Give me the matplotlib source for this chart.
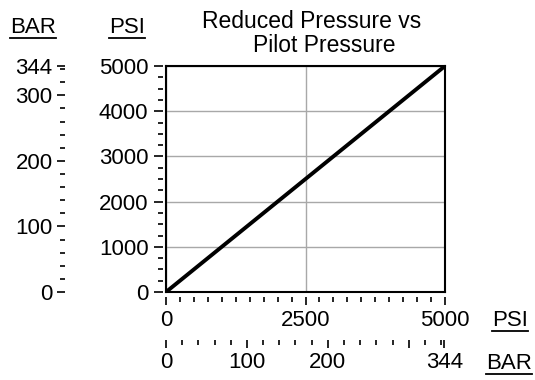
import matplotlib
matplotlib.use('Agg')
import matplotlib.pyplot as plt
from matplotlib.lines import Line2D
from matplotlib.ticker import FixedLocator, MultipleLocator

plt.rcParams['font.family'] = ['Liberation Sans', 'DejaVu Sans']

# data: reduced pressure follows pilot pressure 1:1
pilot_psi = [0, 5000]
reduced_psi = [0, 5000]

psi_y_ticks = [0, 1000, 2000, 3000, 4000, 5000]
psi_x_ticks = [0, 2500, 5000]
bar_y_ticks = [0, 100, 200, 300, 344]
bar_x_ticks = [0, 100, 200, 300, 344]
bar_x_labels = ['0', '100', '200', '', '344']
bar_y_labels = ['0', '100', '200', '300', '344']

PSI_PER_BAR = 14.5038
FS = 16
W, H = 535, 380


def psi2bar(p):
    return p / PSI_PER_BAR


def bar2psi(b):
    return b * PSI_PER_BAR


def same(v):
    return v


fig = plt.figure(figsize=(W / 100, H / 100), dpi=100)
ax = fig.add_axes([166 / W, (H - 292) / H, (445 - 166) / W, (292 - 66) / H])

ax.plot(pilot_psi, reduced_psi, color='black', lw=2.8, solid_capstyle='butt')
ax.set_xlim(0, 5000)
ax.set_ylim(0, 5000)
ax.xaxis.set_major_locator(FixedLocator(psi_x_ticks))
ax.yaxis.set_major_locator(FixedLocator(psi_y_ticks))
ax.grid(True, color='#a8a8a8', lw=1)
ax.tick_params(length=0, labelleft=False, labelbottom=False)
for s in ax.spines.values():
    s.set_linewidth(1.5)

tick_kw = dict(width=1.2, labelsize=FS, colors='black')

# psi scales, ticks slightly detached from frame
psi_left = ax.secondary_yaxis(-3 / 279, functions=(same, same))
psi_left.spines['left'].set_visible(False)
psi_left.set_yticks(psi_y_ticks)
psi_left.yaxis.set_minor_locator(MultipleLocator(250))
psi_left.tick_params(which='major', length=6.5, pad=4, **tick_kw)
psi_left.tick_params(which='minor', length=3.5, width=1.2)

psi_bot = ax.secondary_xaxis(-5 / 226, functions=(same, same))
psi_bot.spines['bottom'].set_visible(False)
psi_bot.set_xticks(psi_x_ticks)
psi_bot.xaxis.set_minor_locator(MultipleLocator(250))
psi_bot.tick_params(which='major', length=5.5, pad=3.5, **tick_kw)
psi_bot.tick_params(which='minor', length=3.5, width=1.2)

# bar scales
bar_left = ax.secondary_yaxis(-101 / 279, functions=(psi2bar, bar2psi))
bar_left.spines['left'].set_visible(False)
bar_left.set_yticks(bar_y_ticks, bar_y_labels)
bar_left.yaxis.set_minor_locator(MultipleLocator(20))
bar_left.tick_params(which='major', length=5.5, pad=3.5, **tick_kw)
bar_left.tick_params(which='minor', length=3.5, width=1.2)

bar_bot = ax.secondary_xaxis(-48 / 226, functions=(psi2bar, bar2psi))
bar_bot.spines['bottom'].set_visible(False)
bar_bot.set_xticks(bar_x_ticks, bar_x_labels)
bar_bot.xaxis.set_minor_locator(MultipleLocator(20))
bar_bot.tick_params(which='major', length=5.5, pad=3.5, **tick_kw)
bar_bot.tick_params(which='minor', length=3.5, width=1.2)

# unit labels (underlined)
units = [
    ('BAR', 33, 33),
    ('PSI', 127, 33),
    ('PSI', 510, 326),
    ('BAR', 509, 369),
]
unit_texts = []
for label, x, y in units:
    t = fig.text(x / W, 1 - y / H, label, ha='center', va='baseline', fontsize=FS)
    unit_texts.append(t)

fig.text(312 / W, 1 - 28 / H, 'Reduced Pressure vs', ha='center', va='baseline', fontsize=FS + 0.5)
fig.text(324 / W, 1 - 52 / H, 'Pilot Pressure', ha='center', va='baseline', fontsize=FS + 0.5)

renderer = fig.canvas.get_renderer()
for t in unit_texts:
    bb = t.get_window_extent(renderer)
    x0, y0 = t.get_position()
    yline = y0 - 4.5 / H
    fig.add_artist(Line2D([bb.x0 / W, bb.x1 / W], [yline, yline],
                          transform=fig.transFigure, color='black', lw=1.3))

fig.savefig('out.png', dpi=100, facecolor='white')
